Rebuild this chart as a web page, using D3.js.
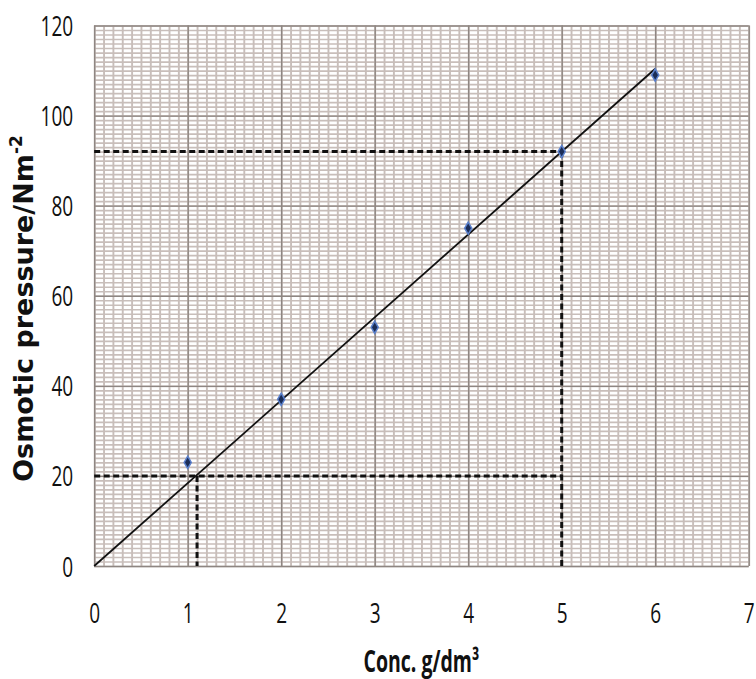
<!DOCTYPE html>
<html>
<head>
<meta charset="utf-8">
<script src="https://cdn.jsdelivr.net/npm/d3@7"></script>
<style>
  html, body { margin: 0; padding: 0; background: #fff; }
  svg { display: block; }
</style>
</head>
<body>
<div id="chart"></div>
<script>
// Readings taken off the graph
const conc = [1, 2, 3, 4, 5, 6];
const pressure = [23, 37, 53, 75, 92, 109];

// Best fit line, from origin to the last concentration
const fitX = [0, 6];
const fitY = [0, 110.4];

// Dotted read-off lines: level read across, and where it meets the fit line
const readLevel = [20, 92];
const readConc = [1.1, 5];
const readAcrossTo = 5;

const xTicks = [0, 1, 2, 3, 4, 5, 6, 7];
const yTicks = [0, 20, 40, 60, 80, 100, 120];

const WIDTH = 756;
const HEIGHT = 679;
const LEFT = 94.2;
const RIGHT = 748.7;
const TOP = 25.5;
const BOTTOM = 566;

const x = d3.scaleLinear().domain([0, 7]).range([LEFT, RIGHT]);
const y = d3.scaleLinear().domain([0, 120]).range([BOTTOM, TOP]);

const svg = d3.select('#chart')
              .append('svg')
              .attr('width', WIDTH)
              .attr('height', HEIGHT);

// Graph paper: fine lines first, then the heavier ones
const minorX = d3.range(0, 70.5, 1).map(d => d / 10);
const minorY = d3.range(0, 120.5, 1);

function gridLines(axis, cls, color, width) {
  const g = svg.append('g').attr('class', cls).call(axis);
  g.select('.domain').remove();
  g.selectAll('line').attr('stroke', color).attr('stroke-width', width);
  return g;
}

gridLines(d3.axisBottom(x).tickValues(minorX).tickSize(-(BOTTOM - TOP)).tickFormat(''),
          'minor-x', '#c8beba', 1.9)
  .attr('transform', 'translate(0,' + BOTTOM + ')');
gridLines(d3.axisLeft(y).tickValues(minorY).tickSize(-(RIGHT - LEFT)).tickFormat(''),
          'minor-y', '#c8beba', 1.7)
  .attr('transform', 'translate(' + LEFT + ',0)');
gridLines(d3.axisBottom(x).tickValues(xTicks).tickSize(-(BOTTOM - TOP)).tickFormat(''),
          'major-x', '#8e8682', 1.4)
  .attr('transform', 'translate(0,' + BOTTOM + ')');
gridLines(d3.axisLeft(y).tickValues(yTicks).tickSize(-(RIGHT - LEFT)).tickFormat(''),
          'major-y', '#8e8682', 1.4)
  .attr('transform', 'translate(' + LEFT + ',0)');

// Dotted read-off lines
const dash = svg.append('g')
                .attr('stroke', '#111')
                .attr('stroke-width', 3)
                .attr('stroke-dasharray', '6,3.5')
                .attr('fill', 'none');

dash.selectAll('line.across')
    .data(readLevel)
    .enter()
    .append('line')
    .attr('class', 'across')
    .attr('x1', x(0))
    .attr('x2', x(readAcrossTo))
    .attr('y1', d => y(d))
    .attr('y2', d => y(d));

dash.selectAll('line.down')
    .data(readConc)
    .enter()
    .append('line')
    .attr('class', 'down')
    .attr('x1', d => x(d))
    .attr('x2', d => x(d))
    .attr('y1', (d, i) => y(readLevel[i]))
    .attr('y2', y(0));

// Best fit line
const line = d3.line().x(d => x(d[0])).y(d => y(d[1]));
svg.append('path')
   .datum(d3.zip(fitX, fitY))
   .attr('d', line)
   .attr('fill', 'none')
   .attr('stroke', '#111')
   .attr('stroke-width', 1.8);

// Data points (diamonds)
svg.selectAll('path.point')
   .data(d3.zip(conc, pressure))
   .enter()
   .append('path')
   .attr('class', 'point')
   .attr('d', d3.symbol().type(d3.symbolDiamond).size(44))
   .attr('transform', d => 'translate(' + x(d[0]) + ',' + y(d[1]) + ')')
   .attr('fill', '#1b2d57')
   .attr('stroke', '#5a80cc')
   .attr('stroke-width', 1.5);

// Tick labels, narrow like the original
const yAxis = svg.append('g')
                 .attr('transform', 'translate(' + LEFT + ',0)')
                 .call(d3.axisLeft(y).tickValues(yTicks).tickSize(0));
yAxis.select('.domain').remove();
yAxis.selectAll('text')
     .attr('x', 0)
     .attr('dy', '0.357em')
     .attr('transform', 'translate(-21,0) scale(0.68,1)')
     .attr('font-family', '"Open Sans", sans-serif')
     .attr('font-size', 28)
     .attr('fill', '#111');

const xAxis = svg.append('g')
                 .attr('transform', 'translate(0,' + BOTTOM + ')')
                 .call(d3.axisBottom(x).tickValues(xTicks).tickSize(0).tickFormat(d3.format('d')));
xAxis.select('.domain').remove();
xAxis.selectAll('text')
     .attr('y', 0)
     .attr('dy', '0.357em')
     .attr('transform', 'translate(0,47) scale(0.68,1)')
     .attr('font-family', '"Open Sans", sans-serif')
     .attr('font-size', 28)
     .attr('fill', '#111');

// Axis titles
svg.append('text')
   .attr('transform', 'translate(' + ((LEFT + RIGHT) / 2) + ',672) scale(0.65,1)')
   .attr('text-anchor', 'middle')
   .attr('font-family', '"Open Sans", sans-serif')
   .attr('font-weight', 'bold')
   .attr('font-size', 30)
   .attr('fill', '#111')
   .text('Conc. g/dm³');

const yTitle = svg.append('text')
   .attr('transform', 'translate(33,308.5) rotate(-90)')
   .attr('text-anchor', 'middle')
   .attr('font-family', '"DejaVu Sans", sans-serif')
   .attr('font-weight', 'bold')
   .attr('font-size', 27)
   .attr('fill', '#111');
yTitle.append('tspan').text('Osmotic pressure/Nm');
yTitle.append('tspan')
      .attr('font-size', 17)
      .attr('dy', -11)
      .text('-2');
</script>
</body>
</html>
